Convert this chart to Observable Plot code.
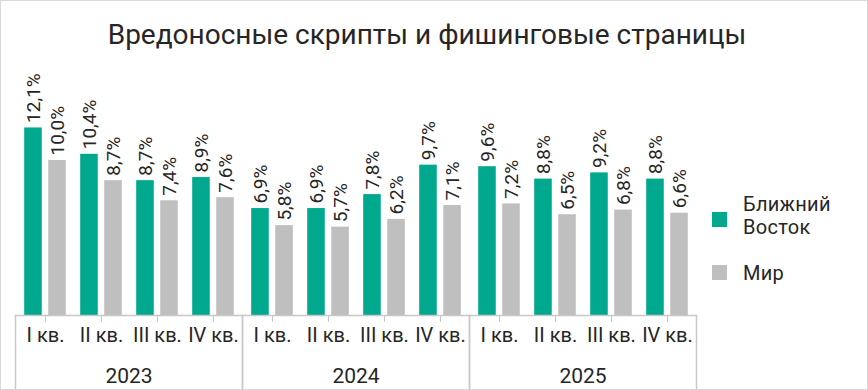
<!DOCTYPE html>
<html>
<head>
<meta charset="utf-8">
<script src="https://cdn.jsdelivr.net/npm/d3@7"></script>
<script src="https://cdn.jsdelivr.net/npm/@observablehq/plot@0.6"></script>
<style>
  body { margin: 0; background: #fff; font-family: Roboto, "Noto Sans", sans-serif; color: #262626; }
  #wrap { position: relative; width: 868px; height: 390px; overflow: hidden; background: #fff; }
  #border { position: absolute; left: 0; top: 0; width: 868px; height: 390px; box-sizing: border-box; border: 1px solid #d9d9d9; pointer-events: none; }
  #title { height: 60px; box-sizing: border-box; padding-top: 21px; padding-right: 14px; text-align: center; font-size: 28px; line-height: 28px; font-weight: 400; color: #262626; }
  #chart svg { display: block; }
  #legend { position: absolute; left: 712px; top: 0; font-size: 20px; line-height: 23px; color: #262626; }
  .item { position: absolute; left: 0; white-space: nowrap; }
  .sw { position: absolute; left: 0; width: 15px; height: 15px; }
  .lb { position: absolute; left: 31px; letter-spacing: 0.3px; }
</style>
</head>
<body>
<div id="wrap">
  <div id="title">Вредоносные скрипты и фишинговые страницы</div>
  <div id="chart"></div>
  <div id="legend"></div>
  <div id="border"></div>
</div>
<script>
const years = ["2023", "2024", "2025"];
const quarters = ["I кв.", "II кв.", "III кв.", "IV кв."];
const series = ["Ближний Восток", "Мир"];
const legendLines = [["Ближний", "Восток"], ["Мир"]];
const middleEast = [12.1, 10.4, 8.7, 8.9, 6.9, 6.9, 7.8, 9.7, 9.6, 8.8, 9.2, 8.8];
const world = [10.0, 8.7, 7.4, 7.6, 5.8, 5.7, 6.2, 7.1, 7.2, 6.5, 6.8, 6.6];
const colors = ["#00a88e", "#bfbfbf"];

const values = [middleEast, world];
const rows = [];
years.forEach((year, i) => quarters.forEach((quarter, j) => series.forEach((s, k) => {
  rows.push({year, quarter, series: s, value: values[k][i * 4 + j]});
})));
const fmt = d => d.value.toFixed(1).replace(".", ",") + "%";

// layout
const W = 868, H = 330, mL = 15, mR = 172, mT = 38, mB = 75;
const frameH = H - mT - mB;
const band = (W - mL - mR) / (years.length * quarters.length);
const barW = 18.3, gapW = 5.75;
const pad = (band - 2 * barW - gapW) / 2;
const shift = band / 2 - pad - barW / 2;
const axisColor = "#c8c8c8";
const textColor = "#262626";

const bySeries = k => rows.filter(d => d.series === series[k]);

const plot = Plot.plot({
  width: W, height: H,
  marginLeft: mL, marginRight: mR, marginTop: mT, marginBottom: mB,
  style: {fontFamily: 'Roboto, "Noto Sans", sans-serif', background: "transparent", color: textColor},
  fx: {domain: years, padding: 0},
  x: {domain: quarters, padding: 0},
  y: {domain: [0, 14], axis: null},
  marks: [
    Plot.barY(bySeries(0), {fx: "year", x: "quarter", y: "value", fill: colors[0], insetLeft: pad, insetRight: band - pad - barW}),
    Plot.barY(bySeries(1), {fx: "year", x: "quarter", y: "value", fill: colors[1], insetLeft: pad + barW + gapW, insetRight: pad}),
    Plot.text(bySeries(0), {fx: "year", x: "quarter", y: "value", text: fmt, rotate: -90, textAnchor: "start", lineAnchor: "middle", dx: -shift, dy: -5, fontSize: 19, fill: textColor}),
    Plot.text(bySeries(1), {fx: "year", x: "quarter", y: "value", text: fmt, rotate: -90, textAnchor: "start", lineAnchor: "middle", dx: shift, dy: -5, fontSize: 19, fill: textColor}),
    Plot.ruleY([0], {stroke: axisColor, strokeWidth: 1.5}),
    Plot.frame({anchor: "left", stroke: axisColor, strokeWidth: 1.5, insetTop: frameH, insetBottom: -(mB - 2)}),
    Plot.frame({anchor: "right", stroke: axisColor, strokeWidth: 1.5, insetTop: frameH, insetBottom: -(mB - 2)}),
    Plot.axisX({anchor: "bottom", tickSize: 7, tickPadding: 5, fontSize: 20, stroke: axisColor, fill: textColor, label: null}),
    Plot.axisFx({anchor: "bottom", tickSize: 0, tickPadding: 53, fontSize: 21, fill: textColor, label: null})
  ]
});
document.getElementById("chart").appendChild(plot);

// legend
const legend = document.getElementById("legend");
const itemTops = [193.2, 261.5];
const swTops = [212, 265];
series.forEach((s, k) => {
  const item = document.createElement("div");
  item.className = "item";
  item.style.top = "0px";
  const sw = document.createElement("div");
  sw.className = "sw";
  sw.style.background = colors[k];
  sw.style.top = swTops[k] + "px";
  const lb = document.createElement("div");
  lb.className = "lb";
  lb.style.top = itemTops[k] + "px";
  lb.innerHTML = legendLines[k].join("<br>");
  item.appendChild(sw);
  item.appendChild(lb);
  legend.appendChild(item);
});
</script>
</body>
</html>
